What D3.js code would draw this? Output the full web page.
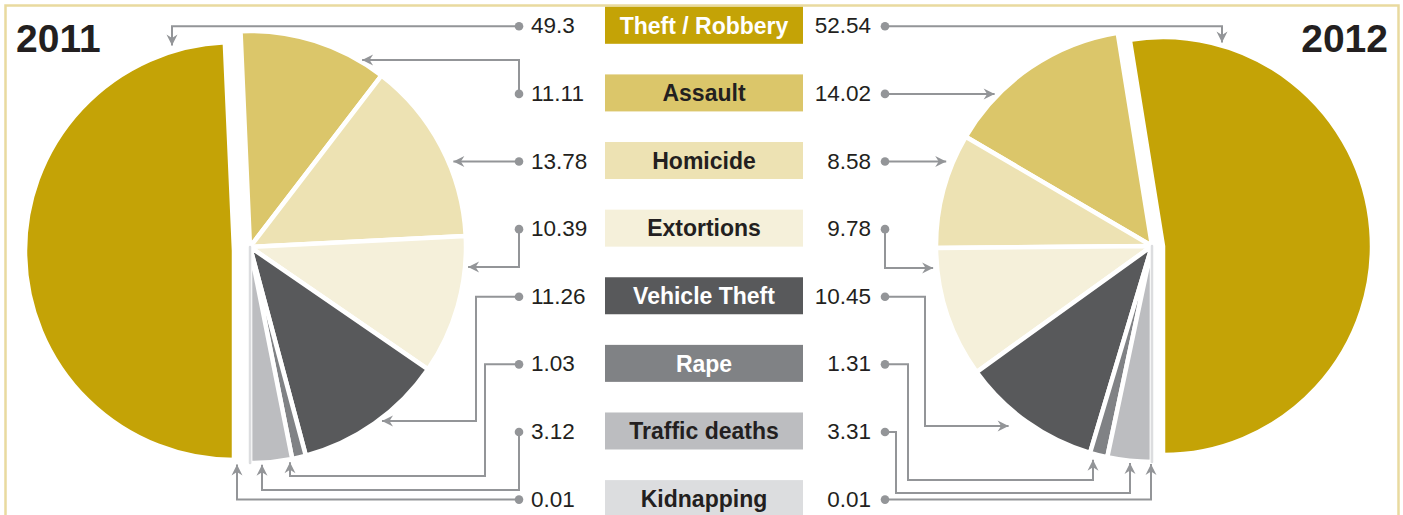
<!DOCTYPE html>
<html>
<head>
<meta charset="utf-8">
<script src="https://cdn.jsdelivr.net/npm/d3@7"></script>
<style>
  body { margin: 0; background: #fff; }
  svg { display: block; font-family: "Liberation Sans", Arial, Helvetica, sans-serif; }
</style>
</head>
<body>
<svg id="chart" width="1403" height="515"></svg>
<script>
// data (percent of reported crimes)
const categories = ['Theft / Robbery', 'Assault', 'Homicide', 'Extortions', 'Vehicle Theft', 'Rape', 'Traffic deaths', 'Kidnapping'];
const values2011 = [49.3, 11.11, 13.78, 10.39, 11.26, 1.03, 3.12, 0.01];
const values2012 = [52.54, 14.02, 8.58, 9.78, 10.45, 1.31, 3.31, 0.01];
const years = ['2011', '2012'];
const colors = ['#c4a306', '#dbc66a', '#ede2b3', '#f5f0da', '#58595b', '#808285', '#bcbdc0', '#dcdddf'];
const textColors = ['#ffffff', '#231f20', '#231f20', '#231f20', '#ffffff', '#ffffff', '#231f20', '#231f20'];

const svg = d3.select('#chart');
const lineColor = '#939598';
const ink = '#231f20';

// frame
svg.append('rect')
  .attr('x', 5.5).attr('y', 5.5)
  .attr('width', 1393).attr('height', 540)
  .attr('fill', 'none')
  .attr('stroke', '#e9da9f')
  .attr('stroke-width', 2.5);

// rows of the legend
const rowY = d3.scalePoint().domain(categories).range([25.3, 498.6]);

// arrow head
svg.append('defs').append('marker')
  .attr('id', 'arrow')
  .attr('markerUnits', 'userSpaceOnUse')
  .attr('viewBox', '-12 -6 13 12')
  .attr('refX', 0).attr('refY', 0)
  .attr('markerWidth', 13).attr('markerHeight', 12)
  .attr('orient', 'auto')
  .append('path')
  .attr('d', 'M0,0 L-11,-5.5 L-7.5,0 L-11,5.5 Z')
  .attr('fill', lineColor);

// pie layout per year; theft slice is pulled out a little
const pies = [
  {
    year: years[0], values: values2011,
    cx: 250, cy: 247, r: 216, start: Math.PI, end: 3 * Math.PI,
    theft: { dx: -16, dy: 4, r: 209 },
    dotX: 519, side: 1,
    yearX: 16, yearAnchor: 'start',
    routes: [
      { via: [[172, null]], end: 'top', gap: 6 },
      { via: [[null, 60]], end: 'side', gap: 4 },
      { via: [], end: 'side', gap: 5 },
      { via: [[null, 267]], end: 'side', gap: 3 },
      { via: [[476, null], [476, 421]], end: 'side', gap: 4 },
      { via: [[485, null], [485, 476], [290, 476]], end: 'bottom', gap: 3 },
      { via: [[null, 490], [262, 490]], end: 'bottom', gap: 2 },
      { via: [[237, null]], end: 'bottom', gap: 2 }
    ]
  },
  {
    year: years[1], values: values2012,
    cx: 1152, cy: 246, r: 216, start: Math.PI, end: -Math.PI,
    theft: { dx: 11, dy: 0, r: 209 },
    dotX: 885, side: -1,
    yearX: 1388, yearAnchor: 'end',
    routes: [
      { via: [[1222, null]], end: 'top', gap: 3 },
      { via: [], end: 'side', gap: 4 },
      { via: [], end: 'side', gap: 7 },
      { via: [[null, 268]], end: 'side', gap: 4 },
      { via: [[925, null], [925, 426]], end: 'side', gap: 24 },
      { via: [[908, null], [908, 480], [1093, 480]], end: 'bottom', gap: 6 },
      { via: [[896, null], [896, 493], [1130, 493]], end: 'bottom', gap: 2 },
      { via: [[1151, null]], end: 'bottom', gap: 2 }
    ]
  }
];

pies.forEach(p => {
  const pie = d3.pie().sort(null).startAngle(p.start).endAngle(p.end);
  const arcs = pie(p.values);
  const arc = d3.arc()
    .innerRadius(0)
    .outerRadius((d, i) => i === 0 ? p.theft.r : p.r);

  const g = svg.append('g').attr('transform', `translate(${p.cx},${p.cy})`);

  g.selectAll('path.slice')
    .data(arcs)
    .enter()
    .append('path')
    .attr('class', 'slice')
    .attr('transform', (d, i) => i === 0 ? `translate(${p.theft.dx},${p.theft.dy})` : null)
    .attr('d', (d, i) => arc(d, i))
    .attr('fill', (d, i) => colors[i])
    .attr('stroke', (d, i) => i === arcs.length - 1 ? colors[i] : '#fff')
    .attr('stroke-width', (d, i) => i === arcs.length - 1 ? 2.5 : 4.5)
    .attr('stroke-linejoin', 'round');

  // tiny slice on top so it stays visible as a line
  g.selectAll('path.slice').filter((d, i) => i === arcs.length - 1).raise();

  // connectors from the value dots to the slices
  const theftCircle = { x: p.cx + p.theft.dx, y: p.cy + p.theft.dy, r: p.theft.r };
  const mainCircle = { x: p.cx, y: p.cy, r: p.r };

  p.routes.forEach((rt, i) => {
    const dy = rowY(categories[i]) + 1;
    const pts = [[p.dotX, dy]];
    rt.via.forEach(v => pts.push([v[0] === null ? p.dotX : v[0], v[1] === null ? dy : v[1]]));
    const last = pts[pts.length - 1];
    const c = i === 0 ? theftCircle : mainCircle;
    let tip;
    if (rt.end === 'side') {
      const x = c.x + p.side * (Math.sqrt(c.r * c.r - (last[1] - c.y) ** 2) + rt.gap);
      tip = [x, last[1]];
    } else if (rt.end === 'bottom') {
      tip = [last[0], c.y + Math.sqrt(c.r * c.r - (last[0] - c.x) ** 2) + rt.gap];
    } else {
      tip = [last[0], c.y - Math.sqrt(c.r * c.r - (last[0] - c.x) ** 2) - rt.gap];
    }
    pts.push(tip);

    svg.append('path')
      .attr('d', d3.line()(pts))
      .attr('fill', 'none')
      .attr('stroke', lineColor)
      .attr('stroke-width', 2)
      .attr('marker-end', 'url(#arrow)');

    svg.append('circle')
      .attr('cx', p.dotX).attr('cy', dy)
      .attr('r', 4.3)
      .attr('fill', lineColor);
  });

  // values beside the legend
  svg.selectAll(null)
    .data(p.values)
    .enter()
    .append('text')
    .attr('x', p.side === 1 ? p.dotX + 12 : p.dotX - 14)
    .attr('y', (d, i) => rowY(categories[i]) + 8)
    .attr('text-anchor', p.side === 1 ? 'start' : 'end')
    .attr('font-size', 22.5)
    .attr('fill', ink)
    .text(d => String(d));

  svg.append('text')
    .attr('x', p.yearX)
    .attr('y', 52)
    .attr('text-anchor', p.yearAnchor)
    .attr('font-size', 39)
    .attr('font-weight', 'bold')
    .attr('fill', ink)
    .text(p.year);
});

// legend boxes
const legend = svg.append('g');
const boxes = legend.selectAll('g')
  .data(categories)
  .enter()
  .append('g')
  .attr('transform', d => `translate(0,${rowY(d)})`);

boxes.append('rect')
  .attr('x', 605).attr('y', -18.5)
  .attr('width', 198).attr('height', 37)
  .attr('fill', (d, i) => colors[i]);

boxes.append('text')
  .attr('x', 704).attr('y', 8.2)
  .attr('text-anchor', 'middle')
  .attr('font-size', 23)
  .attr('font-weight', 'bold')
  .attr('fill', (d, i) => textColors[i])
  .text(d => d);
</script>
</body>
</html>
